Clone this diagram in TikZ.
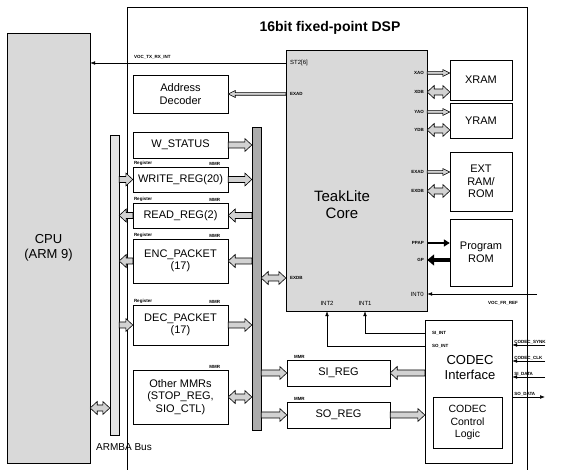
\documentclass[tikz,border=0pt]{standalone}
\usepackage{fontspec}
\setmainfont{Liberation Sans}
\usetikzlibrary{arrows.meta,calc}
% fat bus arrows: #1 shaft half width, #2 head half width, #3 from, #4 to
\newcommand\onehead[4]{%
  \filldraw[busarrow] let \p1=(#3), \p2=(#4), \n1={(\x2-\x1)/abs(\x2-\x1)} in
    (\x1,\y1+#1) -- (\x2-\n1*7pt,\y1+#1) -- (\x2-\n1*7pt,\y1+#2) -- (\x2,\y1)
    -- (\x2-\n1*7pt,\y1-#2) -- (\x2-\n1*7pt,\y1-#1) -- (\x1,\y1-#1) -- cycle;}
\newcommand\twohead[4]{%
  \filldraw[busarrow] let \p1=(#3), \p2=(#4), \n1={(\x2-\x1)/abs(\x2-\x1)} in
    (\x1,\y1) -- (\x1+\n1*7pt,\y1+#2) -- (\x1+\n1*7pt,\y1+#1) -- (\x2-\n1*7pt,\y1+#1)
    -- (\x2-\n1*7pt,\y1+#2) -- (\x2,\y1) -- (\x2-\n1*7pt,\y1-#2) -- (\x2-\n1*7pt,\y1-#1)
    -- (\x1+\n1*7pt,\y1-#1) -- (\x1+\n1*7pt,\y1-#2) -- cycle;}
\begin{document}
\begin{tikzpicture}[x=1pt,y=-1pt,
    box/.style={draw,fill=white,align=center,inner sep=1pt,font=\fontsize{11}{12.5}\selectfont},
    tag/.style={font=\fontsize{4.5}{5}\selectfont\bfseries,inner sep=1pt},
    pin/.style={font=\fontsize{6}{7}\selectfont,inner sep=1pt},
    busarrow/.style={draw=black,fill=gray!35,line width=0.6pt,line join=miter},
    heavy/.style={line width=2.6pt},
    sig/.style={line width=0.6pt}]
\useasboundingbox (0,0) rectangle (563,470);
% DSP frame
\draw[line width=0.6pt] (127,470) -- (127,7) -- (527,7) -- (527,470);
\node[font=\fontsize{14}{16}\selectfont\bfseries] (title) at (330,28) {16bit fixed-point DSP};
% CPU and buses
\node[box,fill=gray!30,minimum width=83pt,minimum height=430pt,font=\fontsize{13}{15}\selectfont] (cpu) at (48.5,248) {CPU\\(ARM 9)};
\node[draw,fill=gray!22,minimum width=9pt,minimum height=300pt,inner sep=0pt] (armba) at (114.5,285) {};
\node[font=\fontsize{10}{12}\selectfont] (armbalbl) at (124,447) {ARMBA Bus};
\node[draw,fill=gray!65,minimum width=9pt,minimum height=303pt,inner sep=0pt] (ibus) at (256.5,278.5) {};
% core
\node[draw,fill=gray!30,minimum width=141pt,minimum height=261pt] (core) at (356.5,180.5) {};
\node[font=\fontsize{15}{17}\selectfont,align=center] (corelbl) at (342,205) {TeakLite\\Core};
\node[pin,anchor=west] (st2) at (289,63) {ST2[6]};
\node[tag,anchor=west] (exadl) at (289,94) {EXAD};
\node[tag,anchor=west] (exdbl) at (289,278) {EXDB};
\node[tag,anchor=east] (xao) at (425,73) {XAO};
\node[tag,anchor=east] (xdb) at (425,92) {XDB};
\node[tag,anchor=east] (yao) at (425,112) {YAO};
\node[tag,anchor=east] (ydb) at (425,130) {YDB};
\node[tag,anchor=east] (exad) at (425,172) {EXAD};
\node[tag,anchor=east] (exdb) at (425,191) {EXDB};
\node[tag,anchor=east] (ppap) at (425,243) {PPAP};
\node[tag,anchor=east] (gp) at (425,260) {GP};
\node[pin,anchor=east] (int0) at (425,294) {INT0};
\node[pin] (int1) at (365,303) {INT1};
\node[pin] (int2) at (327,303) {INT2};
% memories
\node[box,minimum width=62pt,minimum height=40pt] (xram) at (481,80) {XRAM};
\node[box,minimum width=62pt,minimum height=35pt] (yram) at (481,120.5) {YRAM};
\node[box,minimum width=62pt,minimum height=59pt] (extram) at (481,181.5) {EXT\\RAM/\\ROM};
\node[box,minimum width=62pt,minimum height=67pt] (prom) at (481,252.5) {Program\\ROM};
\node[box,minimum width=95pt,minimum height=38pt] (addr) at (180.5,94) {Address\\Decoder};
% registers
\node[box,minimum width=95pt,minimum height=26pt] (wstatus) at (180.5,145) {W\_STATUS};
\node[box,minimum width=95pt,minimum height=25pt] (writereg) at (180.5,179.5) {WRITE\_REG(20)};
\node[box,minimum width=95pt,minimum height=25pt] (readreg) at (180.5,215.5) {READ\_REG(2)};
\node[box,minimum width=95pt,minimum height=44pt] (encpkt) at (180.5,261) {ENC\_PACKET\\(17)};
\node[box,minimum width=95pt,minimum height=40pt] (decpkt) at (180.5,325) {DEC\_PACKET\\(17)};
\node[box,minimum width=95pt,minimum height=54pt] (other) at (180.5,397) {Other MMRs\\(STOP\_REG,\\SIO\_CTL)};
\node[box,minimum width=103pt,minimum height=26pt] (sireg) at (338.5,373) {SI\_REG};
\node[box,minimum width=103pt,minimum height=26pt] (soreg) at (338.5,415) {SO\_REG};
\foreach \r in {writereg,readreg,encpkt,decpkt} {
  \node[tag,anchor=south west] at (\r.north west) {Register};
  \node[tag,anchor=south east] at ([xshift=-7pt]\r.north east) {MMR};
}
\node[tag,anchor=south east] at ([xshift=-7pt]other.north east) {MMR};
\node[tag,anchor=south west] at ([xshift=6pt]sireg.north west) {MMR};
\node[tag,anchor=south west] at ([xshift=6pt]soreg.north west) {MMR};
% codec
\node[draw,fill=white,minimum width=87pt,minimum height=143pt] (codec) at (468.5,391.5) {};
\node[font=\fontsize{13}{15}\selectfont,align=center] (codeclbl) at (470,368) {CODEC\\Interface};
\node[box,minimum width=69pt,minimum height=51pt,font=\fontsize{10.5}{12.5}\selectfont] (ctrl) at (467.5,422.5) {CODEC\\Control\\Logic};
\node[tag,anchor=west] (siint) at (431,333) {SI\_INT};
\node[tag,anchor=west] (soint) at (431,346) {SO\_INT};
% core signals
\draw[sig,-{Latex[length=5pt]}] (core.west |- st2) -- (cpu.east |- st2);
\node[tag,anchor=west] (voctx) at (133,57) {VOC\_TX\_RX\_INT};
\onehead{1.3pt}{3.5pt}{core.west |- exadl}{addr.east |- exadl}
\onehead{1.3pt}{3.5pt}{core.east |- xao}{xram.west |- xao}
\twohead{3pt}{6.5pt}{core.east |- xdb}{xram.west |- xdb}
\onehead{1.3pt}{3.5pt}{core.east |- yao}{yram.west |- yao}
\twohead{3pt}{6.5pt}{core.east |- ydb}{yram.west |- ydb}
\onehead{1.3pt}{3.5pt}{core.east |- exad}{extram.west |- exad}
\twohead{3pt}{6.5pt}{core.east |- exdb}{extram.west |- exdb}
\draw[heavy,-{Triangle[length=6pt,width=7pt]}] (core.east |- ppap) -- (prom.west |- ppap);
\draw[line width=4pt,-{Triangle[length=7pt,width=11pt]}] (prom.west |- gp) -- (core.east |- gp);
\coordinate (vocfr) at (537,294);
\draw[sig,-{Latex[length=5pt]}] (vocfr) -- (core.east |- vocfr);
\node[tag] (vocfrl) at (503,303) {VOC\_FR\_REF};
\draw[sig,-{Latex[length=5pt]}] (codec.west |- siint) -| (core.south -| int1);
\draw[sig,-{Latex[length=5pt]}] (codec.west |- soint) -| (core.south -| int2);
% register links
\onehead{3pt}{6.5pt}{wstatus.east}{wstatus.east -| ibus.west}
\onehead{3pt}{6.5pt}{writereg.east}{writereg.east -| ibus.west}
\onehead{3pt}{6.5pt}{readreg.east -| ibus.west}{readreg.east}
\onehead{3pt}{6.5pt}{encpkt.east -| ibus.west}{encpkt.east}
\onehead{3pt}{6.5pt}{decpkt.east}{decpkt.east -| ibus.west}
\twohead{3pt}{6.5pt}{other.east}{other.east -| ibus.west}
\twohead{3pt}{6.5pt}{ibus.east |- exdbl}{core.west |- exdbl}
\onehead{3pt}{6.5pt}{sireg.west -| ibus.east}{sireg.west}
\onehead{3pt}{6.5pt}{codec.west |- sireg}{sireg.east}
\onehead{3pt}{6.5pt}{ibus.east |- soreg}{soreg.west}
\onehead{3pt}{6.5pt}{soreg.east}{codec.west |- soreg}
\onehead{3pt}{6.5pt}{armba.east |- writereg}{writereg.west}
\onehead{3pt}{6.5pt}{readreg.west}{armba.east |- readreg}
\onehead{3pt}{6.5pt}{encpkt.west}{armba.east |- encpkt}
\onehead{3pt}{6.5pt}{armba.east |- decpkt}{decpkt.west}
\coordinate (armlink) at (100,408);
\twohead{3pt}{6.5pt}{cpu.east |- armlink}{armba.west |- armlink}
% codec pins
\foreach \y/\t in {345/CODEC\_SYNK,361/CODEC\_CLK,377/SI\_DATA} {
  \coordinate (pin\y) at (545,\y);
  \draw[sig,-{Latex[length=5pt]}] (pin\y) -- (codec.east |- pin\y);
  \node[tag,anchor=south west] at ([xshift=1pt]codec.east |- pin\y) {\t};
}
\coordinate (sodata) at (545,397);
\draw[sig,-{Latex[length=5pt]}] (codec.east |- sodata) -- (sodata);
\node[tag,anchor=south west] at ([xshift=1pt]codec.east |- sodata) {SO\_DATA};
\end{tikzpicture}
\end{document}
